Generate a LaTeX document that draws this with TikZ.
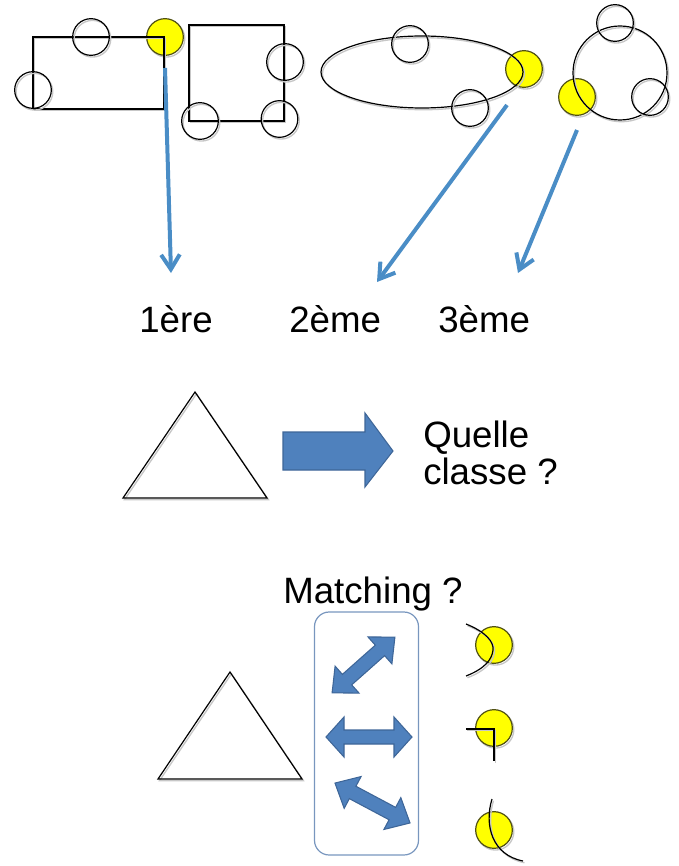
\documentclass[tikz,border=0pt]{standalone}
\usepackage{fontspec}
\setmainfont{Liberation Sans}
\usetikzlibrary{arrows.meta,shapes.geometric}
\definecolor{thinblue}{RGB}{74,141,198}
\definecolor{blockfill}{RGB}{79,129,189}
\definecolor{blockedge}{RGB}{62,102,152}
\definecolor{boxedge}{RGB}{120,150,190}
\definecolor{yellowfill}{RGB}{255,255,0}
\definecolor{yellowedge}{RGB}{80,80,20}
\tikzset{
  shadowed/.style={preaction={draw=black!22, line width=1pt, transform canvas={xshift=1.1pt,yshift=-1.3pt}}},
  outline/.style={draw=black, line width=0.9pt, shadowed},
  ring/.style={circle, outline, minimum size=27.5pt, inner sep=0pt},
  yring/.style={ring, fill=yellowfill, draw=yellowedge},
  lbl/.style={font=\fontsize{27.5pt}{27.75pt}\selectfont, inner sep=0pt, text=black},
  tarrow/.style={draw=thinblue, line width=3pt, -{Straight Barb[length=11pt,width=14pt]}},
  blockarrow/.style={fill=blockfill, draw=blockedge, line width=0.8pt, line join=miter},
  pics/dblarrow/.style args={#1/#2/#3/#4}{code={
    \path[blockarrow] (-#1/2,0) -- (-#1/2+#4,#3) -- (-#1/2+#4,#2) -- (#1/2-#4,#2) -- (#1/2-#4,#3) -- (#1/2,0)
      -- (#1/2-#4,-#3) -- (#1/2-#4,-#2) -- (-#1/2+#4,-#2) -- (-#1/2+#4,-#3) -- cycle;
  }}
}
\begin{document}
\begin{tikzpicture}[x=0.75pt,y=-0.75pt]
\path[use as bounding box] (0,0) rectangle (678,866);

% ---------- top row ----------
% yellow circles first (outlines drawn over them)
\node[yring] (ya) at (165,37) {};
\node[yring] (yb) at (524,69) {};
\node[yring] (yc) at (577,97) {};

% shapes
\node[rectangle, outline, minimum width=98.25pt, minimum height=54pt, inner sep=0pt] (r1) at (98.5,73) {};
\node[rectangle, outline, minimum width=71.25pt, minimum height=72pt, inner sep=0pt] (r2) at (236.5,73) {};
\node[ellipse, outline, minimum width=151.5pt, minimum height=54pt, inner sep=0pt] (el) at (422,72) {};
\node[circle, outline, minimum size=70.5pt, inner sep=0pt] (bc) at (620,73) {};

% white circles
\node[ring] (c1) at (91,37) {};
\node[ring] (c2) at (33,90) {};
\node[ring] (c3) at (285,62) {};
\node[ring] (c4) at (200,121) {};
\node[ring] (c5) at (279.5,119) {};
\node[ring] (c6) at (410,44) {};
\node[ring] (c7) at (470,108) {};
\node[ring] (c8) at (615,23) {};
\node[ring] (c9) at (650,97) {};

% thin arrows
\coordinate (a1s) at (165,68);
\coordinate (a1e) at (171,273);
\coordinate (a2s) at (507,105);
\coordinate (a2e) at (377,282);
\coordinate (a3s) at (577,130);
\coordinate (a3e) at (518,273);
\draw[tarrow] (a1s) -- (a1e);
\draw[tarrow] (a2s) -- (a2e);
\draw[tarrow] (a3s) -- (a3e);

% labels
\node[lbl, anchor=base west] (l1) at (139,332) {1ère};
\node[lbl, anchor=base west] (l2) at (289,332) {2ème};
\node[lbl, anchor=base west] (l3) at (438,332) {3ème};

% ---------- middle ----------
\draw[outline, line join=miter] (195,392) -- (267,498) -- (123,498) -- cycle;
\path[blockarrow] (283,432) -- (365,432) -- (365,413) -- (393,451) -- (365,487) -- (365,470) -- (283,470) -- cycle;
\node[lbl, anchor=north west, align=left] (q) at (423,421) {Quelle\\classe ?};

% ---------- bottom ----------
\node[lbl, anchor=base west] (m) at (283,603) {Matching ?};
\draw[outline, line join=miter] (230,672) -- (302,779) -- (158,779) -- cycle;
\node[rectangle, draw=boxedge, line width=0.9pt, rounded corners=11pt, minimum width=78pt, minimum height=182.25pt, inner sep=0pt] (box) at (366.5,733.5) {};

\pic[shift={(363.5,665)}, rotate=41.6] {dblarrow={84/7/18/20}};
\pic[shift={(369,737)}] {dblarrow={86/7/20/18}};
\pic[shift={(372.5,803)}, rotate=-28] {dblarrow={85/7/18/20}};

% right column
\node[yring] (m1) at (494,645) {};
\node[yring] (m2) at (494,728) {};
\node[yring] (m3) at (494,830) {};
\draw[outline] (466,624) .. controls (486,632) and (494,642) .. (493,650) .. controls (492,660) and (484,669) .. (466,676);
\draw[outline] (466,729) -- (494,729) -- (494,761);
\draw[outline] (492,799) .. controls (484,825) and (492,855) .. (523,861);
\end{tikzpicture}
\end{document}
